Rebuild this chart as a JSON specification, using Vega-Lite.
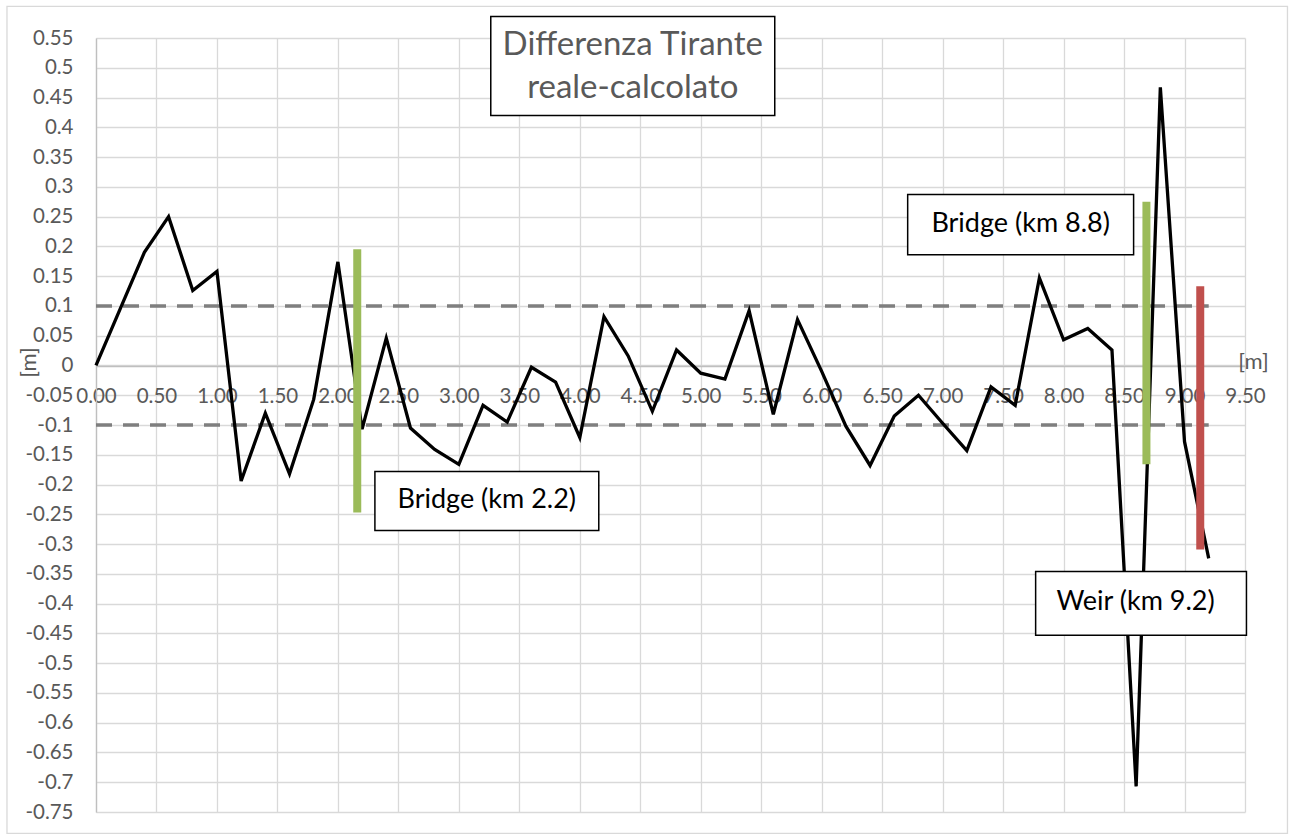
{
  "$schema": "https://vega.github.io/schema/vega-lite/v6.json",
  "width": 1149,
  "height": 774,
  "autosize": "none",
  "padding": {"left": 96, "top": 38, "right": 45, "bottom": 24},
  "background": "white",
  "config": {"view": {"stroke": null}, "font": "Lato"},
  "datasets": {
    "series": [
      {"x": 0.0, "y": 0.0}, {"x": 0.2, "y": 0.095}, {"x": 0.4, "y": 0.19}, {"x": 0.6, "y": 0.25},
      {"x": 0.8, "y": 0.126}, {"x": 1.0, "y": 0.158}, {"x": 1.2, "y": -0.194}, {"x": 1.4, "y": -0.08},
      {"x": 1.6, "y": -0.182}, {"x": 1.8, "y": -0.057}, {"x": 2.0, "y": 0.174}, {"x": 2.2, "y": -0.107},
      {"x": 2.4, "y": 0.046}, {"x": 2.6, "y": -0.105}, {"x": 2.8, "y": -0.141}, {"x": 3.0, "y": -0.166},
      {"x": 3.2, "y": -0.067}, {"x": 3.4, "y": -0.095}, {"x": 3.6, "y": -0.003}, {"x": 3.8, "y": -0.028},
      {"x": 4.0, "y": -0.121}, {"x": 4.2, "y": 0.082}, {"x": 4.4, "y": 0.016}, {"x": 4.6, "y": -0.077},
      {"x": 4.8, "y": 0.026}, {"x": 5.0, "y": -0.013}, {"x": 5.2, "y": -0.023}, {"x": 5.4, "y": 0.092},
      {"x": 5.6, "y": -0.082}, {"x": 5.8, "y": 0.077}, {"x": 6.0, "y": -0.01}, {"x": 6.2, "y": -0.102},
      {"x": 6.4, "y": -0.168}, {"x": 6.6, "y": -0.085}, {"x": 6.8, "y": -0.05}, {"x": 7.0, "y": -0.097},
      {"x": 7.2, "y": -0.143}, {"x": 7.4, "y": -0.036}, {"x": 7.6, "y": -0.067}, {"x": 7.8, "y": 0.147},
      {"x": 8.0, "y": 0.043}, {"x": 8.2, "y": 0.062}, {"x": 8.4, "y": 0.026}, {"x": 8.6, "y": -0.707},
      {"x": 8.8, "y": 0.467}, {"x": 9.0, "y": -0.128}, {"x": 9.2, "y": -0.324}
    ],
    "limits": [
      {"x": 0, "x2": 9.2, "y": 0.1},
      {"x": 0, "x2": 9.2, "y": -0.1}
    ],
    "structures": [
      {"x": 2.16, "y": -0.247, "y2": 0.195, "kind": "Bridge"},
      {"x": 8.685, "y": -0.166, "y2": 0.275, "kind": "Bridge"},
      {"x": 9.13, "y": -0.309, "y2": 0.133, "kind": "Weir"}
    ],
    "frame": [
      {"x": -0.736, "x2": 9.851, "y": 0.603, "y2": -0.786}
    ],
    "boxes": [
      {"x": 3.264, "x2": 5.612, "y": 0.586, "y2": 0.42},
      {"x": 2.306, "x2": 4.157, "y": -0.178, "y2": -0.277},
      {"x": 6.711, "x2": 8.579, "y": 0.287, "y2": 0.186},
      {"x": 7.769, "x2": 9.512, "y": -0.346, "y2": -0.453}
    ],
    "title": [
      {"x": 4.438, "y": 0.539, "label": "Differenza Tirante\nreale-calcolato"}
    ],
    "notes": [
      {"x": 3.231, "y": -0.226, "label": "Bridge (km 2.2)"},
      {"x": 7.645, "y": 0.237, "label": "Bridge (km 8.8)"},
      {"x": 8.595, "y": -0.398, "label": "Weir (km 9.2)"}
    ]
  },
  "encoding": {
    "x": {
      "field": "x", "type": "quantitative",
      "scale": {"domain": [0, 9.5], "nice": false, "zero": false},
      "axis": {
        "title": "[m]",
        "values": [0, 0.5, 1, 1.5, 2, 2.5, 3, 3.5, 4, 4.5, 5, 5.5, 6, 6.5, 7, 7.5, 8, 8.5, 9, 9.5],
        "format": ".2f",
        "grid": true, "gridColor": "#d9d9d9", "gridWidth": 1.3,
        "ticks": false,
        "domain": true, "domainColor": "#bfbfbf", "domainWidth": 1.3,
        "offset": -446,
        "labelFont": "Lato", "labelFontSize": 20.5, "labelColor": "#595959",
        "labelPadding": 20, "labelFlush": false, "labelOverlap": false,
        "titleFont": "Lato", "titleFontSize": 22, "titleFontWeight": "normal", "titleColor": "#595959",
        "titleX": 1157, "titleY": -5, "titleAlign": "center", "titleBaseline": "middle", "titleAngle": 0
      }
    },
    "y": {
      "field": "y", "type": "quantitative",
      "scale": {"domain": [-0.75, 0.55], "nice": false, "zero": false},
      "axis": {
        "title": "[m]",
        "values": [-0.75, -0.7, -0.65, -0.6, -0.55, -0.5, -0.45, -0.4, -0.35, -0.3, -0.25, -0.2, -0.15, -0.1, -0.05, 0, 0.05, 0.1, 0.15, 0.2, 0.25, 0.3, 0.35, 0.4, 0.45, 0.5, 0.55],
        "labelExpr": "replace(format(datum.value, '.2~f'), '\u2212', '-')",
        "grid": true, "gridColor": "#d9d9d9", "gridWidth": 1.3,
        "ticks": false,
        "domain": true, "domainColor": "#bfbfbf", "domainWidth": 1.3,
        "labelFont": "Lato", "labelFontSize": 20.5, "labelColor": "#595959",
        "labelPadding": 23, "labelOverlap": false, "labelFlush": false,
        "titleFont": "Lato", "titleFontSize": 22, "titleFontWeight": "normal", "titleColor": "#595959",
        "titleX": -68, "titleY": 324, "titleAngle": -90, "titleAlign": "center", "titleBaseline": "middle"
      }
    }
  },
  "layer": [
    {
      "data": {"name": "frame"},
      "mark": {"type": "rect", "fill": null, "stroke": "#d9d9d9", "strokeWidth": 1.3},
      "encoding": {"x2": {"field": "x2"}, "y2": {"field": "y2"}}
    },
    {
      "data": {"name": "limits"},
      "mark": {"type": "rule", "color": "#7f7f7f", "strokeWidth": 3.5, "strokeDash": [16, 11]},
      "encoding": {"x2": {"field": "x2"}}
    },
    {
      "data": {"name": "series"},
      "mark": {"type": "line", "color": "#000000", "strokeWidth": 3.3, "strokeJoin": "miter"}
    },
    {
      "data": {"name": "structures"},
      "mark": {"type": "rule", "strokeWidth": 8, "strokeCap": "butt"},
      "encoding": {
        "y2": {"field": "y2"},
        "color": {"field": "kind", "type": "nominal", "scale": {"domain": ["Bridge", "Weir"], "range": ["#9bbb59", "#c0504d"]}, "legend": null}
      }
    },
    {
      "data": {"name": "boxes"},
      "mark": {"type": "rect", "fill": "#ffffff", "stroke": "#000000", "strokeWidth": 1.5},
      "encoding": {"x2": {"field": "x2"}, "y2": {"field": "y2"}}
    },
    {
      "data": {"name": "title"},
      "mark": {"type": "text", "font": "Lato", "fontSize": 33, "lineHeight": 43, "lineBreak": "\n", "color": "#595959", "align": "center", "baseline": "middle"},
      "encoding": {"text": {"field": "label"}}
    },
    {
      "data": {"name": "notes"},
      "mark": {"type": "text", "font": "Lato", "fontSize": 27, "color": "#000000", "align": "center", "baseline": "middle"},
      "encoding": {"text": {"field": "label"}}
    }
  ]
}
